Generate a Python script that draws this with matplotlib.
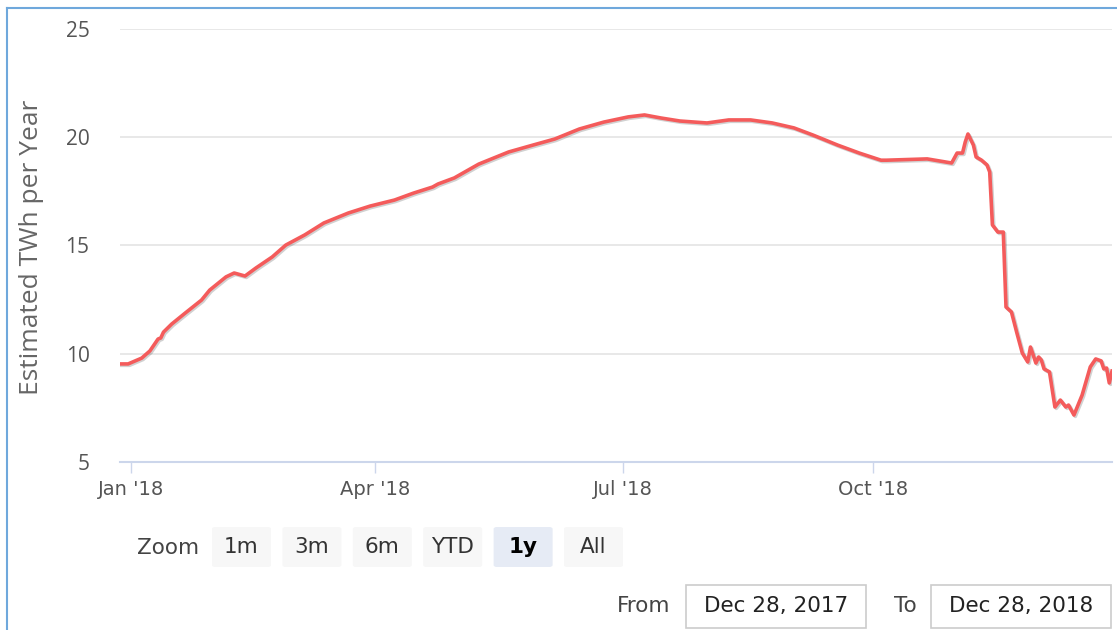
import matplotlib
matplotlib.use('Agg')
import matplotlib.pyplot as plt
import matplotlib.dates as mdates
import matplotlib.patheffects as pe
from matplotlib.patches import FancyBboxPatch, Rectangle
from matplotlib.lines import Line2D
import pandas as pd

# data: days after the start date, and TWh per year
start = pd.Timestamp('2017-12-28')
day_offsets = [0, 3, 8, 11, 14, 15, 16, 19, 24, 30, 33, 39, 42, 46, 50, 56, 61,
               68, 75, 84, 92, 101, 108, 115, 117, 123, 132, 143, 152, 160, 169,
               178, 187, 193, 199, 206, 216, 224, 232, 240, 248, 255, 264, 272,
               280, 282, 297, 306, 308, 310, 311, 312, 314, 315, 317, 319, 320,
               321, 323, 325, 326, 328, 330, 332, 334, 335, 337, 338, 339, 340,
               342, 344, 346, 348, 349, 351, 354, 357, 359, 361, 362, 363, 364, 365]
twh = [9.53, 9.53, 9.80, 10.13, 10.68, 10.73, 11.00, 11.37, 11.88, 12.48, 12.94,
       13.55, 13.73, 13.59, 13.96, 14.47, 15.02, 15.49, 16.04, 16.50, 16.82, 17.10,
       17.42, 17.70, 17.84, 18.12, 18.76, 19.32, 19.64, 19.92, 20.38, 20.70, 20.94,
       21.03, 20.89, 20.75, 20.66, 20.80, 20.80, 20.66, 20.43, 20.10, 19.64, 19.27,
       18.94, 18.94, 19.00, 18.81, 19.27, 19.27, 19.78, 20.15, 19.64, 19.09, 18.94,
       18.72, 18.40, 15.95, 15.62, 15.62, 12.16, 11.93, 10.96, 10.03, 9.62, 10.31,
       9.57, 9.85, 9.71, 9.30, 9.16, 7.54, 7.86, 7.54, 7.63, 7.17, 8.09, 9.39, 9.76,
       9.67, 9.30, 9.34, 8.65, 9.20]
dates = [start + pd.Timedelta(days=d) for d in day_offsets]

tick_dates = ['2018-01-01', '2018-04-01', '2018-07-01', '2018-10-01']
y_ticks = [5, 10, 15, 20, 25]
buttons = ['1m', '3m', '6m', 'YTD', '1y', 'All']
selected = '1y'
from_text = 'Dec 28, 2017'
to_text = 'Dec 28, 2018'

W, H = 1117, 630
fig = plt.figure(figsize=(W / 100, H / 100), dpi=100)
narrow = ['DejaVu Sans']
wide = ['Open Sans', 'DejaVu Sans']


def fx(px):
    return px / W


def fy(py):
    return 1 - py / H


ax = fig.add_axes([fx(120), fy(462), fx(1112) - fx(120), fy(29) - fy(462)])
ax.plot(dates, twh, color='#f45b5b', lw=2.6, solid_joinstyle='round',
        path_effects=[pe.SimpleLineShadow(offset=(1, -1), alpha=0.18, shadow_color='k'),
                      pe.Normal()])

ax.set_xlim(start, start + pd.Timedelta(days=365))
ax.set_ylim(5, 25)
ax.set_yticks(y_ticks)
ax.grid(axis='y', color='#e6e6e6', lw=1.3)
ax.set_axisbelow(True)
for s in ['top', 'right', 'left']:
    ax.spines[s].set_visible(False)
ax.spines['bottom'].set_color('#ccd6eb')
ax.spines['bottom'].set_linewidth(1.5)

ax.set_xticks([pd.Timestamp(t) for t in tick_dates])
ax.xaxis.set_major_formatter(mdates.DateFormatter("%b '%y"))
ax.tick_params(axis='x', direction='out', length=8, width=1, color='#ccd6eb',
               labelsize=14, labelcolor='#555555', pad=5)
ax.tick_params(axis='y', length=0, labelsize=15, labelcolor='#555555', pad=22)
for lab in ax.get_xticklabels():
    lab.set_family(narrow)
for lab in ax.get_yticklabels():
    lab.set_family(wide)

fig.text(fx(32), fy(247), 'Estimated TWh per Year', rotation=90, ha='center',
         va='center', fontsize=19, color='#666666', family=wide)

# outer blue frame (left and top edges visible)
fig.add_artist(Line2D([fx(7), fx(7)], [fy(8), -0.1], color='#6fa8dc', lw=1.5))
fig.add_artist(Line2D([fx(7), 1.1], [fy(8), fy(8)], color='#6fa8dc', lw=1.5))

# range selector
fig.text(fx(199), fy(548), 'Zoom', ha='right', va='center', fontsize=15.5,
         color='#444444', family=narrow)
bx = 212
for b in buttons:
    sel = b == selected
    fig.add_artist(FancyBboxPatch((fx(bx), fy(567)), fx(59), fy(527) - fy(567),
                                  boxstyle='round,pad=0,rounding_size=0.003',
                                  transform=fig.transFigure,
                                  fc='#e6ebf5' if sel else '#f7f7f7', ec='none'))
    fig.text(fx(bx + 29.5), fy(547), b, ha='center', va='center', fontsize=15.5,
             color='#000000' if sel else '#333333',
             fontweight='bold' if sel else 'normal', family=narrow)
    bx += 70.4

# date inputs
fig.text(fx(670), fy(606), 'From', ha='right', va='center', fontsize=15.5,
         color='#444444', family=narrow)
fig.text(fx(917), fy(606), 'To', ha='right', va='center', fontsize=15.5,
         color='#444444', family=narrow)
for x0, txt in [(686, from_text), (931, to_text)]:
    fig.add_artist(Rectangle((fx(x0), fy(628)), fx(180), fy(585) - fy(628),
                             transform=fig.transFigure, fc='white', ec='#cccccc', lw=1.2))
    fig.text(fx(x0 + 90), fy(606), txt, ha='center', va='center', fontsize=15.5,
             color='#222222', family=narrow)

fig.savefig('out.png', dpi=100)
